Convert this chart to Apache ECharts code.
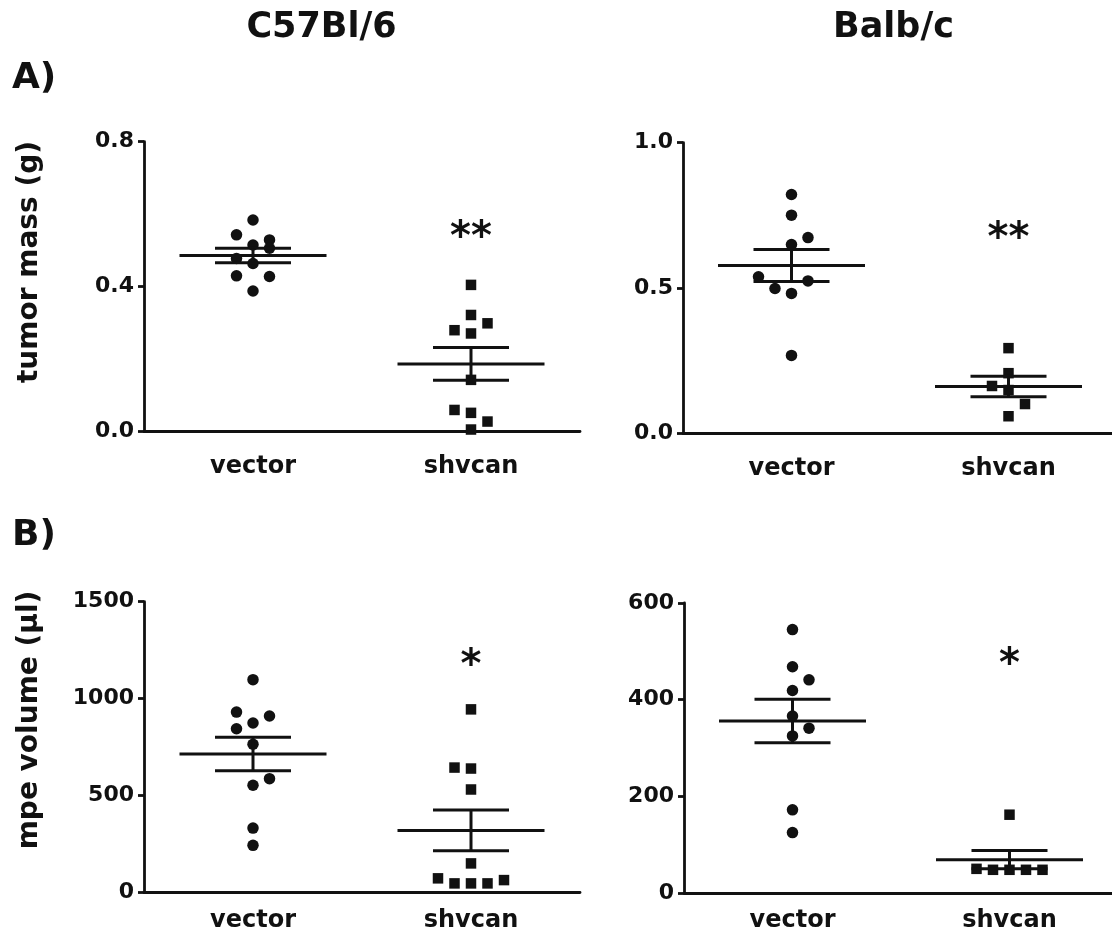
<!DOCTYPE html>
<html><head><meta charset="utf-8">
<script src="https://cdn.jsdelivr.net/npm/echarts@6/dist/echarts.min.js"></script>
<style>html,body{margin:0;padding:0;background:#fff}#c{width:1112px;height:935px}</style>
</head><body><div id="c"></div>
<script>
// ---------- data ----------
const categories = ['vector', 'shvcan'];

// A) tumor mass (g), C57Bl/6
const c57MassVector = [0.584, 0.543, 0.529, 0.515, 0.506, 0.478, 0.464, 0.430, 0.428, 0.388];
const c57MassVectorSlot = [0, -1, 1, 0, 1, -1, 0, -1, 1, 0];
const c57MassShvcan = [0.405, 0.322, 0.299, 0.280, 0.271, 0.143, 0.060, 0.052, 0.028, 0.006];
const c57MassShvcanSlot = [0, 0, 1, -1, 0, 0, -1, 0, 1, 0];
const c57MassMean = [0.486, 0.187];
const c57MassSem = [0.020, 0.045];
const c57MassTicks = ['0.0', '0.4', '0.8'];
const c57MassSig = '**';
const c57MassSigAt = 0.551;

// A) tumor mass (g), Balb/c
const balbMassVector = [0.822, 0.751, 0.674, 0.650, 0.539, 0.525, 0.499, 0.482, 0.269];
const balbMassVectorSlot = [0, 0, 1, 0, -2, 1, -1, 0, 0];
const balbMassShvcan = [0.294, 0.208, 0.164, 0.150, 0.102, 0.060];
const balbMassShvcanSlot = [0, 0, -1, 0, 1, 0];
const balbMassMean = [0.578, 0.162];
const balbMassSem = [0.055, 0.035];
const balbMassTicks = ['0.0', '0.5', '1.0'];
const balbMassSig = '**';
const balbMassSigAt = 0.69;

// B) mpe volume (µl), C57Bl/6
const c57VolVector = [1098, 931, 911, 875, 845, 765, 588, 554, 333, 244];
const c57VolVectorSlot = [0, -1, 1, 0, -1, 0, 1, 0, 0, 0];
const c57VolShvcan = [945, 645, 640, 532, 151, 74, 48, 48, 48, 65];
const c57VolShvcanSlot = [0, -1, 0, 0, 0, -2, -1, 0, 1, 2];
const c57VolMean = [715, 321];
const c57VolSem = [86, 105];
const c57VolTicks = ['0', '500', '1000', '1500'];
const c57VolSig = '*';
const c57VolSigAt = 1199;

// B) mpe volume (µl), Balb/c
const balbVolVector = [545, 468, 441, 419, 366, 341, 325, 172, 125];
const balbVolVectorSlot = [0, 0, 1, 0, 0, 1, 0, 0, 0];
const balbVolShvcan = [162, 50, 48, 48, 48, 48];
const balbVolShvcanSlot = [0, -2, -1, 0, 1, 2];
const balbVolMean = [356, 69];
const balbVolSem = [45, 19];
const balbVolTicks = ['0', '200', '400', '600'];
const balbVolSig = '*';
const balbVolSigAt = 485;

// ---------- styling ----------
const INK = '#111111';
const FONT = 'DejaVu Sans';
const JIT = 16.5;
const MEAN_HALF = 73.5;
const SEM_HALF = 38;

const panels = [
  {grid: {left: 144, top: 141.7, width: 436, height: 290}, labelMargin: 23, max: 0.8, interval: 0.4, ticks: c57MassTicks,
   vec: c57MassVector, vecSlot: c57MassVectorSlot, sh: c57MassShvcan, shSlot: c57MassShvcanSlot,
   mean: c57MassMean, sem: c57MassSem, sig: c57MassSig, sigAt: c57MassSigAt},
  {grid: {left: 683, top: 142.7, width: 434, height: 291}, labelMargin: 23, max: 1.0, interval: 0.5, ticks: balbMassTicks,
   vec: balbMassVector, vecSlot: balbMassVectorSlot, sh: balbMassShvcan, shSlot: balbMassShvcanSlot,
   mean: balbMassMean, sem: balbMassSem, sig: balbMassSig, sigAt: balbMassSigAt},
  {grid: {left: 144, top: 601.7, width: 436, height: 291}, labelMargin: 16, max: 1500, interval: 500, ticks: c57VolTicks,
   vec: c57VolVector, vecSlot: c57VolVectorSlot, sh: c57VolShvcan, shSlot: c57VolShvcanSlot,
   mean: c57VolMean, sem: c57VolSem, sig: c57VolSig, sigAt: c57VolSigAt},
  {grid: {left: 684, top: 603, width: 434, height: 290}, labelMargin: 16, max: 600, interval: 200, ticks: balbVolTicks,
   vec: balbVolVector, vecSlot: balbVolVectorSlot, sh: balbVolShvcan, shSlot: balbVolShvcanSlot,
   mean: balbVolMean, sem: balbVolSem, sig: balbVolSig, sigAt: balbVolSigAt}
];

function meanSemItem(params, api) {
  const x = api.value(0), m = api.value(1), s = api.value(2);
  const c = api.coord([x, m]);
  const hi = api.coord([x, m + s]);
  const lo = api.coord([x, m - s]);
  const st = {stroke: INK, lineWidth: 3};
  return {type: 'group', children: [
    {type: 'line', shape: {x1: c[0] - MEAN_HALF, y1: c[1], x2: c[0] + MEAN_HALF, y2: c[1]}, style: st},
    {type: 'line', shape: {x1: c[0] - SEM_HALF, y1: hi[1], x2: c[0] + SEM_HALF, y2: hi[1]}, style: st},
    {type: 'line', shape: {x1: c[0] - SEM_HALF, y1: lo[1], x2: c[0] + SEM_HALF, y2: lo[1]}, style: st},
    {type: 'line', shape: {x1: c[0], y1: hi[1], x2: c[0], y2: lo[1]}, style: st}
  ]};
}

const grids = [], xAxes = [], yAxes = [], series = [];
panels.forEach((p, i) => {
  grids.push(Object.assign({containLabel: false, outerBoundsMode: 'none'}, p.grid));
  xAxes.push({
    type: 'category', gridIndex: i, data: categories, boundaryGap: true,
    axisLine: {lineStyle: {color: INK, width: 2.8}},
    axisTick: {alignWithLabel: true, length: 6, lineStyle: {color: INK, width: 2.8}},
    axisLabel: {color: INK, fontFamily: FONT, fontWeight: 'bold', fontSize: 24, margin: p.labelMargin},
    splitLine: {show: false}
  });
  const ticks = p.ticks;
  yAxes.push({
    type: 'value', gridIndex: i, min: 0, max: p.max, interval: p.interval,
    axisLine: {show: true, lineStyle: {color: INK, width: 2.8}},
    axisTick: {show: true, length: 6, lineStyle: {color: INK, width: 2.8}},
    axisLabel: {color: INK, fontFamily: FONT, fontWeight: 'bold', fontSize: 22, margin: 10,
      formatter: (v, idx) => ticks[idx]},
    splitLine: {show: false}
  });
  series.push({
    type: 'scatter', xAxisIndex: i, yAxisIndex: i, symbol: 'circle', symbolSize: 11.5,
    itemStyle: {color: INK, opacity: 1}, silent: true,
    data: p.vec.map((v, k) => ({value: [0, v], symbolOffset: [p.vecSlot[k] * JIT, 0]}))
  });
  series.push({
    type: 'scatter', xAxisIndex: i, yAxisIndex: i, symbol: 'rect', symbolSize: 10.5,
    itemStyle: {color: INK, opacity: 1}, silent: true,
    data: p.sh.map((v, k) => ({value: [1, v], symbolOffset: [p.shSlot[k] * JIT, 0]}))
  });
  series.push({
    type: 'custom', xAxisIndex: i, yAxisIndex: i, renderItem: meanSemItem, silent: true, z: 3,
    data: p.mean.map((m, k) => [k, m, p.sem[k]])
  });
  series.push({
    type: 'scatter', xAxisIndex: i, yAxisIndex: i, symbolSize: 1, silent: true,
    itemStyle: {color: 'rgba(0,0,0,0)', opacity: 1},
    label: {show: true, position: 'inside', formatter: p.sig, color: INK, opacity: 1, fontFamily: FONT,
      fontWeight: 'bold', fontSize: 40, offset: [0, 7]},
    data: [[1, p.sigAt]]
  });
});

const txt = (text, x, y, size, extra) => Object.assign({
  type: 'text', x: x, y: y,
  style: {text: text, fill: INK, font: 'bold ' + size + 'px "' + FONT + '"', align: 'center', verticalAlign: 'middle'}
}, extra || {});

const chart = echarts.init(document.getElementById('c'), null, {renderer: 'canvas'});
chart.setOption({
  animation: false,
  backgroundColor: '#ffffff',
  grid: grids, xAxis: xAxes, yAxis: yAxes, series: series,
  graphic: [
    txt('C57Bl/6', 321.5, 28, 35),
    txt('Balb/c', 893.5, 28, 35),
    Object.assign(txt('A)', 12, 79, 36), {style: {text: 'A)', fill: INK, font: 'bold 36px "' + FONT + '"', align: 'left', verticalAlign: 'middle'}}),
    Object.assign(txt('B)', 12, 536, 36), {style: {text: 'B)', fill: INK, font: 'bold 36px "' + FONT + '"', align: 'left', verticalAlign: 'middle'}}),
    txt('tumor mass (g)', 30, 262, 28, {rotation: Math.PI / 2}),
    txt('mpe volume (µl)', 30, 720, 28, {rotation: Math.PI / 2})
  ]
});
</script></body></html>
